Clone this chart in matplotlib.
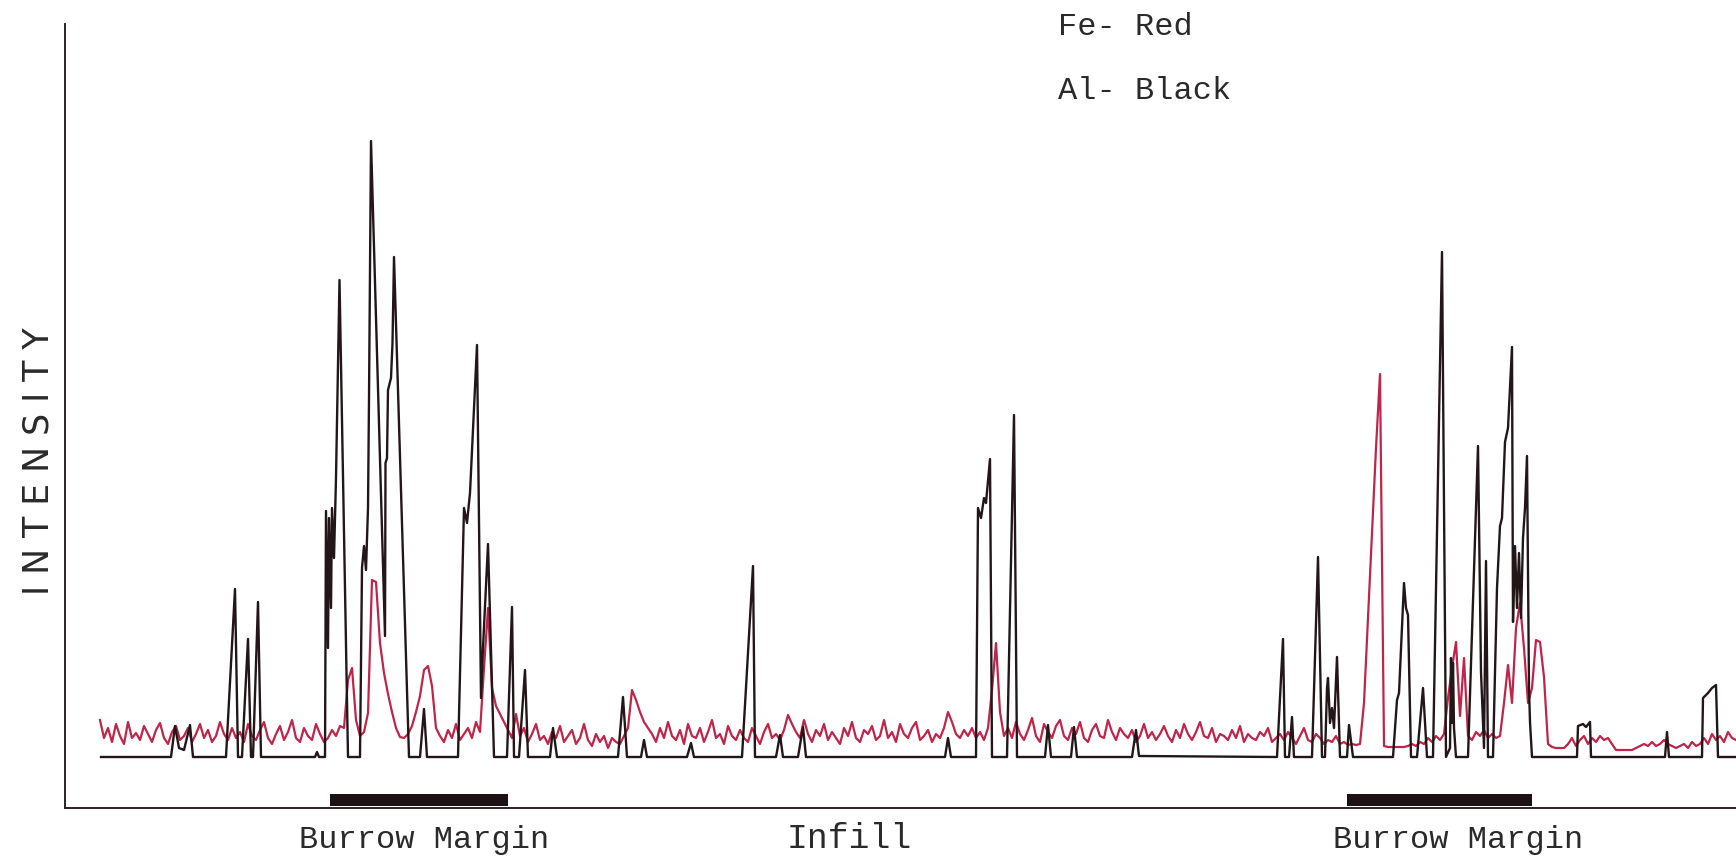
import numpy as np
import matplotlib
matplotlib.use("Agg")
import matplotlib.pyplot as plt

# Tamanho final da figura (px)
W, H = 1736, 856

# --- Al (preto): vertices do traco, posicao ao longo do scan / intensidade
al_x = [101, 171, 175, 179, 184, 190, 193, 226, 235, 238, 242, 248, 251, 253, 258, 261,
        315, 317, 319, 325, 326, 328, 329, 331, 332, 334, 336, 339.5, 348,
        360, 362, 364, 366, 368, 369, 371, 385, 385.5, 387, 388, 391, 392.5, 394, 409,
        420, 424, 427, 458, 464, 467, 470, 477, 481, 483, 488, 494,
        507, 512, 514, 519, 525, 528, 550, 553, 557, 618, 623, 627, 641, 644, 647,
        687, 691, 694, 742, 753, 755, 776, 780, 783, 798, 803, 806, 945, 948, 951,
        976, 978, 981, 984, 986, 990, 992, 1007, 1014, 1017, 1045, 1048, 1051,
        1071, 1074, 1077, 1132, 1136, 1139, 1277, 1283, 1285, 1289, 1292, 1294,
        1312, 1318, 1322, 1325, 1327, 1328, 1330, 1332, 1334, 1337, 1340, 1347, 1349, 1353,
        1393, 1397, 1399, 1404, 1406, 1408, 1411, 1417, 1423, 1427, 1433, 1442, 1446,
        1450, 1451, 1452, 1453, 1454, 1456, 1468, 1478, 1481, 1484, 1486, 1488,
        1493, 1497, 1500, 1502, 1505, 1508, 1512, 1513, 1515, 1517, 1519, 1521, 1523,
        1525, 1527, 1529, 1530, 1532, 1577, 1578, 1583, 1586, 1590, 1591,
        1665, 1667, 1669, 1702, 1703, 1708, 1712, 1716, 1718, 1736]
al_y = [51, 51, 82, 60, 58, 83, 51, 51, 219, 51, 51, 169, 51, 51, 206, 51,
        51, 56, 51, 51, 297, 160, 290, 200, 300, 250, 330, 528, 51,
        51, 240, 262, 238, 300, 409, 667, 172, 345, 350, 418, 430, 465, 551, 51,
        51, 99, 51, 51, 300, 285, 315, 463, 110, 160, 264, 51,
        51, 201, 51, 51, 138, 51, 51, 80, 51, 51, 111, 51, 51, 68, 51,
        51, 65, 51, 51, 242, 51, 51, 73, 51, 51, 81, 51, 51, 70, 51,
        51, 300, 290, 310, 305, 349, 51, 51, 393, 51, 51, 83, 51,
        51, 81, 51, 51, 78, 52, 51, 169, 51, 51, 91, 51,
        51, 251, 51, 51, 120, 130, 85, 100, 80, 151, 51, 51, 83, 51,
        51, 108, 115, 225, 200, 193, 51, 51, 120, 51, 51, 556, 51,
        60, 150, 85, 145, 80, 51, 51, 362, 136, 60, 247, 51,
        51, 220, 282, 290, 366, 380, 461, 186, 262, 200, 255, 190, 270,
        300, 352, 120, 86, 51, 51, 82, 84, 81, 86, 51,
        51, 76, 51, 51, 110, 115, 120, 123, 51, 51]

# --- Fe (vermelho): amostrado a cada 4 unidades a partir de 100
fe_start, fe_step = 100, 4
fe_a = [88, 70, 80, 66, 84, 72, 64, 86, 70, 75,
        68, 82, 74, 66, 78, 85, 70, 64, 76, 82,
        68, 72, 80, 66, 74, 84, 70, 78, 66, 72,
        86, 74, 68, 80, 70, 76, 66, 84, 72, 68,
        78, 86, 70, 64, 74, 82, 68, 76, 88, 70,
        66, 80, 72, 68, 84, 74, 66, 70, 78, 72,
        82]
fe_b = [80, 128, 140, 88, 72, 76, 95, 228, 226, 165, 135, 114, 96, 80, 71, 70,
        74, 82, 96, 112, 138, 142, 122, 80]
fe_c = [72, 66, 78, 70, 84, 68, 74, 80, 70, 86, 76, 140, 200, 120, 102, 94, 86]
fe_d = [78, 70, 94, 72, 80, 66, 74, 84, 68, 72, 64, 76, 70, 82, 66, 72, 78, 64,
        70, 84, 68, 62, 74, 66, 72, 60, 70, 66, 64, 72, 80, 118, 108, 96, 86, 80]
fe_e = [74, 66, 80, 70, 86, 72, 68, 78, 64, 84, 72, 70, 80, 66, 76, 88, 70, 74,
        64, 82, 72, 68, 78, 70, 66, 80, 72, 64, 76, 84, 70, 74, 68, 78,
        93, 84, 76,
        70, 88, 74, 66, 78, 72, 84, 68, 76, 70, 64, 80, 72, 86, 70, 66, 78, 74,
        82, 68, 72, 88, 70, 76, 66, 84, 74, 70, 80, 86, 68, 72, 78, 66, 74, 70, 80,
        96]
fe_f = [86, 74, 70, 78, 72, 80, 70, 76, 68, 80, 118, 165, 96, 72]
fe_g = [80, 70, 86, 74, 68, 78, 90, 72, 66, 84,
        76, 70, 82, 88, 72, 68, 80, 74, 86, 70,
        66, 78, 84, 72, 70, 88, 76, 68, 80, 74,
        70, 78, 66, 72, 84, 70, 76, 68, 74, 82,
        72, 66, 78, 70, 84, 74, 68, 76, 86, 72,
        70, 80, 66, 74, 72, 68, 78, 70, 82, 66,
        74, 70, 68, 76, 72, 80, 66, 70, 74, 68,
        76, 70, 64, 72, 80, 68, 66, 74, 70, 64,
        68, 66, 72, 64, 66, 63, 64, 63]
fe_h = [64, 105, 190, 275, 360, 434, 62, 61, 61, 61, 61, 61, 62, 64, 62, 66,
        64, 70, 66, 72, 68, 74]
fe_i = [110, 140, 166, 92, 150, 72, 68, 76, 72, 78,
        70, 74, 70, 72, 105, 143, 105, 180, 205, 160,
        105, 120, 168, 166, 131, 64, 61, 60, 60, 60]
fe_j = [64, 70, 62, 68, 72, 64, 70, 66, 72, 68, 70, 64,
        58, 58, 58, 58, 58,
        60, 62, 64, 62, 66, 62, 64, 68, 64, 62, 60, 62, 64, 60, 66, 62, 64,
        70, 64, 74, 68, 72, 66, 76, 70, 68]

fe_y = np.array(fe_a + fe_b + fe_c + fe_d + fe_e + fe_f + fe_g + fe_h + fe_i + fe_j)
fe_x = fe_start + fe_step * np.arange(len(fe_y))

# Zonas de margem da toca (inicio, fim)
margem_ini = [330, 1347]
margem_fim = [508, 1532]

rotulos = ["Burrow Margin", "Infill", "Burrow Margin"]
rotulos_x = [424, 849, 1458]

fig = plt.figure(figsize=(W / 100, H / 100), dpi=100)
ax = fig.add_axes([64.5 / W, 48 / H, 1 - 64.5 / W, 784 / H])
ax.set_xlim(64.5, 1736)
ax.set_ylim(0, 784)

ax.plot(fe_x, fe_y, color="#bf2449", lw=1.6)
ax.plot(al_x, al_y, color="#221618", lw=1.7)

for a, b in zip(margem_ini, margem_fim):
    ax.barh(8, b - a, left=a, height=12, color="#1c1213")

for s in ["top", "right"]:
    ax.spines[s].set_visible(False)
for s in ["left", "bottom"]:
    ax.spines[s].set_color("#2e2224")
    ax.spines[s].set_linewidth(1.4)
ax.set_xticks([])
ax.set_yticks([])

mono = "Liberation Mono"
for txt, x in zip(rotulos, rotulos_x):
    ax.text(x, -40, txt, ha="center", va="baseline", fontsize=23 if txt != "Infill" else 25,
            family=mono, color="#2a2a2a", clip_on=False)

fig.text(1058 / W, 1 - 35 / H, "Fe- Red", fontsize=23, family=mono, color="#2a2a2a",
         va="baseline")
fig.text(1058 / W, 1 - 99 / H, "Al- Black", fontsize=23, family=mono, color="#2a2a2a",
         va="baseline")
fig.text(39 / W, 1 - 461 / H, "I N T E N S I T Y", rotation=90, ha="center", va="center",
         fontsize=25, family="DejaVu Sans", color="#2a2a2a")

fig.savefig("out.png", dpi=100)
